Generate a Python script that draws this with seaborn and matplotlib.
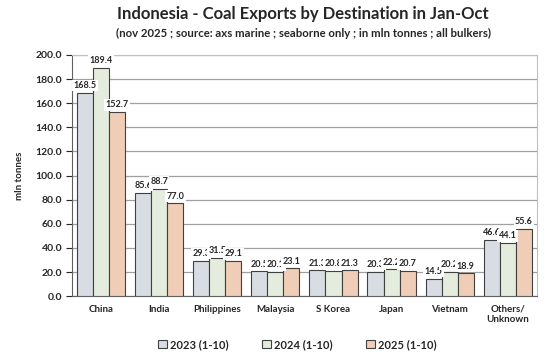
import numpy as np
import pandas as pd
import matplotlib
matplotlib.use("Agg")
import matplotlib.pyplot as plt
import seaborn as sns

destinations = ["China", "India", "Philippines", "Malaysia", "S Korea",
                "Japan", "Vietnam", "Others/\nUnknown"]
periods = ["2023 (1-10)", "2024 (1-10)", "2025 (1-10)"]
exports_2023 = [168.5, 85.6, 29.3, 20.5, 21.3, 20.3, 14.5, 46.6]
exports_2024 = [189.4, 88.7, 31.5, 20.1, 20.8, 22.2, 20.2, 44.1]
exports_2025 = [152.7, 77.0, 29.1, 23.1, 21.3, 20.7, 18.9, 55.6]
colors = ["#d6dce5", "#e2efda", "#f8cbad"]

df = pd.DataFrame({
    "destination": destinations * 3,
    "period": np.repeat(periods, len(destinations)),
    "value": exports_2023 + exports_2024 + exports_2025,
})

sns.set_style("white")
plt.rcParams["font.family"] = ["Lato", "DejaVu Sans"]

fig = plt.figure(figsize=(5.54, 3.59), dpi=100)
ax = fig.add_axes([0.130, 0.175, 0.839, 0.672])

sns.barplot(data=df, x="destination", y="value", hue="period",
            palette=colors, width=0.83, edgecolor="#404040", linewidth=0.8,
            ax=ax, legend=True, zorder=3)

ax.set_ylim(0, 200)
ax.set_yticks(np.arange(0, 201, 20))
ax.set_yticklabels([f"{v:.1f}" for v in np.arange(0, 201, 20)],
                   fontsize=7.5, fontweight="bold")
ax.yaxis.grid(True, color="#a0a0a0", linewidth=0.9, zorder=0)
ax.tick_params(axis="y", length=4, direction="out", left=True, pad=3)
ax.tick_params(axis="x", labelsize=7, length=0, pad=6)
for lbl in ax.get_xticklabels():
    lbl.set_fontweight("bold")
ax.set_xlabel("")
ax.set_ylabel("mln tonnes", fontsize=7, fontweight="bold", labelpad=8)
ax.set_xlim(-0.5, len(destinations) - 0.5)

for side in ["top", "right"]:
    ax.spines[side].set_color("#c0c0c0")
ax.spines["left"].set_color("#606060")
ax.spines["bottom"].set_color("#606060")

for cont in ax.containers:
    ax.bar_label(cont, fmt="%.1f", fontsize=6.5, fontweight="bold", padding=2,
                 bbox=dict(facecolor="white", edgecolor="none", pad=1.0))

handles, labels = ax.get_legend_handles_labels()
ax.legend(handles, labels, loc="upper center", bbox_to_anchor=(0.485, -0.135),
          ncol=3, frameon=False, prop={"weight": "bold", "size": 8},
          handlelength=0.8, handleheight=0.8, columnspacing=3.0, handletextpad=0.3)

fig.text(0.547, 0.96, "Indonesia - Coal Exports by Destination in Jan-Oct",
         ha="center", va="center", fontsize=12, fontweight="bold")
fig.text(0.547, 0.908, "(nov 2025 ; source: axs marine ; seaborne only ; in mln tonnes ; all bulkers)",
         ha="center", va="center", fontsize=8.2, fontweight="bold")

fig.savefig("out.png", dpi=100)
